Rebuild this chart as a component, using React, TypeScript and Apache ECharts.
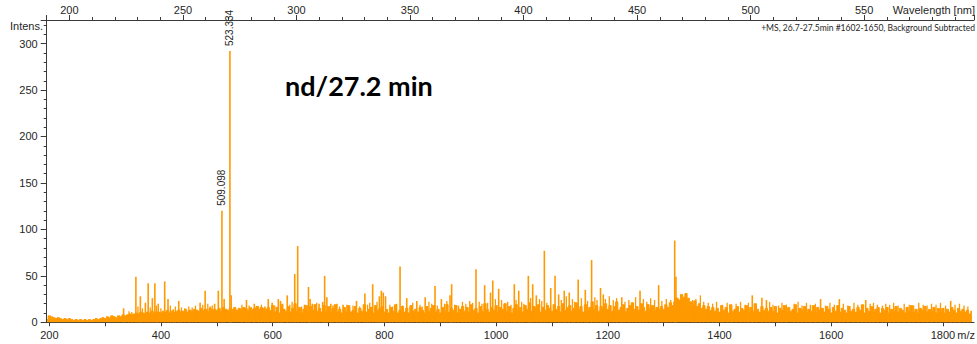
import React, { useEffect, useRef } from "react";
import * as echarts from "echarts";

// ---- data ----
// Dense background ("grass") level, one value every 4 m/z starting at m/z 196
const floorStartMz = 196;
const floorStepMz = 4;
const floor196 = [3, 7, 6, 5, 4, 5, 4, 3, 4, 3, 4, 3, 2, 3, 2, 3, 2, 3, 2, 3, 2, 3, 4, 3, 4];
const floor296 = [5, 4, 6, 5, 7, 6, 5, 7, 6, 8, 7, 8, 9, 8, 9, 10, 9, 11, 10, 9, 11, 10, 12, 10, 11];
const floor396 = [11, 10, 12, 11, 13, 10, 12, 11, 12, 13, 11, 12, 14, 11, 13, 12, 14, 13, 12, 15, 13, 14, 12, 15, 13];
const floor496 = [14, 13, 15, 12, 16, 14, 13, 15, 14, 16, 13, 15, 14, 16, 15, 13, 16, 14, 15, 17, 14, 16, 15, 14, 16];
const floor596 = [13, 18, 11, 16, 10, 19, 14, 12, 17, 11, 15, 20, 12, 16, 10, 14, 18, 11, 17, 13, 19, 12, 15, 11, 18];
const floor696 = [12, 17, 10, 15, 19, 11, 14, 10, 16, 12, 18, 11, 13, 17, 10, 15, 12, 19, 11, 14, 16, 10, 18, 13, 15];
const floor796 = [17, 11, 14, 10, 16, 12, 19, 10, 13, 17, 11, 15, 10, 18, 12, 14, 11, 16, 13, 10, 17, 12, 15, 18, 11];
const floor896 = [14, 10, 16, 12, 19, 11, 15, 13, 18, 10, 14, 17, 12, 16, 11, 19, 13, 15, 10, 17, 12, 20, 14, 11, 16];
const floor996 = [13, 18, 11, 16, 14, 20, 12, 17, 10, 15, 19, 13, 16, 11, 18, 14, 21, 12, 17, 15, 19, 11, 16, 13, 18];
const floor1096 = [15, 12, 19, 14, 17, 11, 20, 13, 16, 18, 12, 15, 21, 14, 17, 11, 19, 13, 16, 22, 14, 18, 12, 17, 15];
const floor1196 = [20, 14, 18, 12, 17, 22, 13, 16, 19, 12, 15, 18, 21, 14, 17, 13, 20, 16, 12, 19, 15, 18, 13, 16, 14];
const floor1296 = [17, 14, 19, 16, 21, 18, 22, 26, 24, 30, 27, 31, 26, 22, 19, 23, 17, 20, 15, 18, 14, 17, 13, 16, 12];
const floor1396 = [15, 11, 18, 13, 16, 10, 19, 12, 14, 17, 11, 15, 13, 18, 10, 16, 12, 20, 14, 11, 17, 13, 15, 12, 16];
const floor1496 = [12, 17, 10, 15, 13, 18, 11, 16, 12, 14, 19, 10, 15, 13, 17, 11, 14, 12, 18, 10, 16, 13, 15, 11, 17];
const floor1596 = [14, 10, 16, 12, 18, 11, 15, 13, 10, 17, 12, 14, 11, 16, 13, 19, 10, 15, 12, 17, 11, 14, 16, 10, 15];
const floor1696 = [13, 16, 10, 14, 12, 17, 11, 15, 13, 10, 16, 12, 18, 11, 14, 10, 15, 13, 17, 11, 14, 12, 16, 10, 15];
const floor1796 = [12, 15, 10, 14, 11, 16, 13, 10, 15, 12, 14, 11, 13, 9, 12];

// Distinct peaks (m/z, intensity)
const peakMz = [
  333, 355, 363, 372, 377, 384.5, 389, 395, 406.6, 412.5, 422, 431.7, 470, 479, 488, 496, 502.6,
  509.098, 513, 523.334, 525.6, 553, 567, 586, 592, 599, 610, 614, 626, 639.4, 644.7, 664, 667, 671,
  683, 689.5, 693, 697, 704, 715, 726, 750, 765, 779, 791, 794.5, 798, 802, 828, 840, 858, 873,
  890.6, 902, 917.5, 920.4, 964, 979.5, 990, 994, 1004.6, 1032.6, 1040.5, 1057.7, 1065.5, 1072,
  1086.4, 1097.8, 1105.5, 1112, 1122, 1131, 1147, 1159.7, 1171, 1187, 1192, 1225, 1257.7, 1291,
  1319.8, 1322, 1458.7, 1476, 1484, 1581, 1614.6, 1661.8, 1814,
];
const peakIntensity = [
  15, 49, 28, 21, 42, 26, 42, 20, 44, 25, 14, 23, 21, 34, 17, 20, 34,
  120, 25, 292, 29, 24, 20, 17, 25, 21, 25, 23, 29, 52, 82, 38, 25, 20,
  20, 22, 50, 27, 20, 20, 19, 23, 31, 41, 28, 34, 32, 28, 60, 26, 23, 27,
  39, 25, 29, 41, 57, 40, 32, 45, 36, 41, 34, 50, 41, 29,
  77, 37, 50, 30, 34, 32, 46, 35, 67, 37, 30, 27, 34, 40,
  88, 49, 29, 26.5, 24, 25, 25, 24, 23,
];

// Small noise spikes poking out of the background
const minorMz = [
  343, 348, 359, 367, 381, 392, 400, 417, 426, 437, 443, 450, 456, 462, 475, 484, 492,
  545, 558, 575, 580, 604, 618, 631, 635, 652, 657, 676, 679,
  708, 720, 733, 738, 744, 756, 770, 774, 785, 787,
  810, 815, 822, 833, 846, 851, 864, 868, 880, 885, 895,
  908, 912, 926, 933, 940, 946, 953, 958, 970, 975, 985, 999,
  1010, 1015, 1021, 1027, 1036, 1046, 1050, 1062, 1078, 1082, 1091,
  1117, 1126, 1137, 1141, 1153, 1164, 1177, 1181, 1196,
  1203, 1210, 1216, 1231, 1238, 1244, 1250, 1264, 1270, 1277, 1284, 1297,
  1305, 1313, 1352, 1358, 1366, 1372, 1380, 1388, 1395,
  1405, 1414, 1422, 1430, 1438, 1446, 1452, 1466, 1490, 1496,
  1506, 1512, 1520, 1534, 1541, 1548, 1556, 1563, 1572, 1590, 1598,
  1606, 1622, 1630, 1641, 1648, 1655, 1670, 1676, 1683, 1692, 1698,
  1705, 1712, 1720, 1731, 1740, 1748, 1757, 1765, 1772, 1780, 1788, 1796, 1805, 1822, 1830, 1838, 1845,
];
const minorIntensity = [
  12, 11, 17, 15, 16, 18, 15, 18, 17, 16, 15, 17, 16, 18, 19, 20, 18,
  19, 18, 17, 19, 18, 20, 19, 22, 17, 19, 18, 21,
  18, 17, 19, 16, 18, 17, 19, 21, 18, 22,
  19, 17, 20, 18, 17, 21, 19, 17, 22, 20, 18,
  20, 23, 19, 18, 22, 20, 23, 21, 22, 20, 21, 25,
  24, 20, 22, 19, 24, 22, 20, 26, 25, 23, 21,
  24, 28, 25, 22, 26, 23, 27, 24, 25,
  28, 24, 26, 22, 24, 21, 27, 25, 22, 26, 24, 23,
  25, 24, 24, 25, 29, 22, 21, 20, 22,
  19, 21, 18, 20, 22, 19, 21, 20, 22, 19,
  18, 21, 19, 20, 22, 18, 21, 19, 20, 18, 21,
  19, 20, 18, 21, 19, 18, 20, 21, 19, 18, 20,
  19, 21, 18, 20, 19, 18, 21, 19, 18, 20, 19, 21, 18, 19, 20, 18, 17,
];
const labeledPeaks = [509.098, 523.334];

const bottomLabels = [200, 400, 600, 800, 1000, 1200, 1400, 1600, 1800];
const topLabels = [200, 250, 300, 350, 400, 450, 500, 550];
const yLabels = [0, 50, 100, 150, 200, 250, 300];

const titleText = "nd/27.2 min";
const infoText = "+MS, 26.7-27.5min #1602-1650, Background Subtracted";

const ORANGE = "#FF9900";
const AXIS = "#3a3a3a";
const LABEL = "#262626";
const FONT = "'Liberation Sans', Arial, sans-serif";

export default function App() {
  const ref = useRef<HTMLDivElement>(null);

  useEffect(() => {
    if (!ref.current) return;
    const chart = echarts.init(ref.current, undefined, { renderer: "svg" });

    const floorValues = [
      ...floor196, ...floor296, ...floor396, ...floor496, ...floor596, ...floor696,
      ...floor796, ...floor896, ...floor996, ...floor1096, ...floor1196, ...floor1296,
      ...floor1396, ...floor1496, ...floor1596, ...floor1696, ...floor1796,
    ];
    const floorData = floorValues.map((v, i) => [floorStartMz + i * floorStepMz, v]);

    const peakData = peakMz.map((mz, i) => {
      const item: any = { value: [mz, peakIntensity[i]] };
      if (labeledPeaks.includes(mz)) {
        item.label = {
          show: true,
          position: "top",
          rotate: 90,
          align: "left",
          verticalAlign: "middle",
          distance: 5,
          formatter: mz.toFixed(3),
          fontSize: 10,
          fontFamily: FONT,
          color: LABEL,
        };
      }
      return item;
    });
    const minorData = minorMz.map((mz, i) => [mz, minorIntensity[i]]);

    const axisLabelBase = { color: LABEL, fontSize: 11, fontFamily: FONT };

    const option: any = {
      animation: false,
      grid: { left: 46.7, right: 3, top: 20, bottom: 21.7, containLabel: false },
      xAxis: [
        {
          type: "value",
          position: "bottom",
          min: 195.3,
          max: 1855.7,
          splitNumber: 17,
          minInterval: 100,
          maxInterval: 100,
          axisLine: { show: true, lineStyle: { color: AXIS, width: 1 } },
          axisTick: { show: true, inside: false, length: 4, lineStyle: { color: AXIS } },
          minorTick: { show: false },
          splitLine: { show: false },
          axisLabel: {
            ...axisLabelBase,
            margin: 7,
            showMinLabel: false,
            showMaxLabel: false,
            formatter: (v: number) => (bottomLabels.includes(Math.round(v)) && Math.abs(v - Math.round(v)) < 1e-6 ? String(Math.round(v)) : ""),
          },
        },
        {
          type: "value",
          position: "top",
          min: 190,
          max: 598.4,
          splitNumber: 8,
          minInterval: 50,
          maxInterval: 50,
          axisLine: { show: true, onZero: false, lineStyle: { color: AXIS, width: 1 } },
          axisTick: { show: true, inside: false, length: 5, lineStyle: { color: AXIS } },
          minorTick: { show: true, splitNumber: 5, length: 3, lineStyle: { color: AXIS } },
          splitLine: { show: false },
          axisLabel: {
            ...axisLabelBase,
            margin: 5,
            showMinLabel: false,
            showMaxLabel: false,
            formatter: (v: number) => (topLabels.includes(Math.round(v)) && Math.abs(v - Math.round(v)) < 1e-6 ? String(Math.round(v)) : ""),
          },
        },
      ],
      yAxis: {
        type: "value",
        min: 0,
        max: 325.4,
        interval: 50,
        axisLine: { show: true, lineStyle: { color: AXIS, width: 1 } },
        axisTick: { show: true, inside: false, length: 6, lineStyle: { color: AXIS } },
        minorTick: { show: true, splitNumber: 5, length: 3, lineStyle: { color: AXIS } },
        splitLine: { show: false },
        axisLabel: {
          ...axisLabelBase,
          margin: 9,
          showMaxLabel: false,
          formatter: (v: number) => (yLabels.includes(v) ? String(v) : ""),
        },
      },
      series: [
        {
          type: "line",
          xAxisIndex: 0,
          data: floorData,
          step: "middle",
          showSymbol: false,
          symbol: "none",
          lineStyle: { color: ORANGE, width: 1 },
          areaStyle: { color: ORANGE, opacity: 1 },
          silent: true,
          z: 2,
        },
        {
          type: "bar",
          xAxisIndex: 0,
          data: minorData,
          barWidth: 1.3,
          barGap: "-100%",
          itemStyle: { color: ORANGE },
          silent: true,
          z: 3,
        },
        {
          type: "bar",
          xAxisIndex: 0,
          data: peakData,
          barWidth: 1.6,
          barGap: "-100%",
          itemStyle: { color: ORANGE },
          silent: true,
          z: 4,
        },
      ],
      graphic: [
        {
          type: "text",
          left: 10,
          top: 20,
          style: { text: "Intens.", fill: LABEL, font: `11px ${FONT}` },
        },
        {
          type: "text",
          right: 2,
          top: 4,
          style: { text: "Wavelength [nm]", fill: LABEL, font: `11px ${FONT}` },
        },
        {
          type: "text",
          x: 975,
          y: 27,
          scaleX: 0.9,
          style: {
            text: infoText,
            fill: LABEL,
            font: `9.5px Lato, 'Noto Sans', sans-serif`,
            align: "right",
            verticalAlign: "middle",
          },
        },
        {
          type: "text",
          left: 285,
          top: 72,
          style: { text: titleText, fill: "#000", font: `bold 27px Lato, 'Noto Sans', sans-serif` },
        },
        {
          type: "text",
          right: 2,
          top: 329,
          style: { text: "m/z", fill: LABEL, font: `11px ${FONT}` },
        },
      ],
    };

    chart.setOption(option);
    return () => chart.dispose();
  }, []);

  return (
    <div
      ref={ref}
      style={{ position: "fixed", left: 0, top: 0, width: 977, height: 344, background: "#fff" }}
    />
  );
}
